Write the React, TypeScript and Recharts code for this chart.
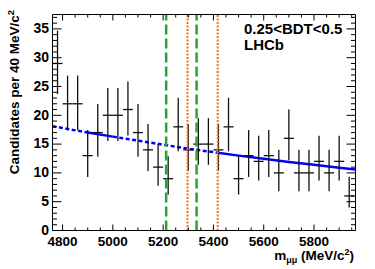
import React from 'react';
import { ComposedChart, Scatter, Line, XAxis, YAxis, ErrorBar, ReferenceLine } from 'recharts';

// ---- data ----
const binCenters = [
  4780, 4820, 4860, 4900, 4940, 4980, 5020, 5060, 5100, 5140,
  5180, 5220, 5260, 5300, 5340, 5380, 5420, 5460, 5500, 5540,
  5580, 5620, 5660, 5700, 5740, 5780, 5820, 5860, 5900, 5940,
];
const counts = [
  29, 22, 22, 13, 17, 20, 20, 21, 17, 14,
  11, 9, 18, 14, 15, 15, 14, 18, 9, 13,
  12, 13, 10, 16, 10, 10, 12, 10, 12, 6,
];
const errDown = [
  5.3, 4.6, 4.6, 3.7, 4.2, 4.45, 4.45, 4.5, 4.2, 3.65,
  3.25, 2.75, 4.25, 3.65, 3.6, 3.6, 3.65, 4.25, 2.75, 3.7,
  3.3, 3.7, 3.2, 3.8, 3.2, 3.2, 3.3, 3.2, 3.3, 2.0,
];
const errUp = [
  5.7, 4.9, 4.9, 4.45, 4.95, 4.75, 4.75, 4.85, 4.95, 4.5,
  4.0, 3.9, 5.05, 4.5, 4.5, 4.5, 4.5, 5.05, 3.9, 4.45,
  4.45, 4.45, 4.0, 5.0, 4.0, 4.0, 4.45, 4.0, 4.45, 3.35,
];
const binHalfWidth = 20;

const fitMass = [4760, 4800, 4900, 5000, 5100, 5200, 5300, 5418, 5500, 5600, 5700, 5800, 5900, 5965];
const fitValue = [18.1, 17.8, 17.0, 16.3, 15.6, 14.9, 14.2, 13.5, 13.0, 12.45, 11.9, 11.4, 10.9, 10.6];

const leftSideband = [4900, 5000];
const rightSideband = [5418, 5965];
const greenWindow = [5212, 5333];
const orangeWindow = [5297, 5417];

const xDomain = [4760, 5965];
const yDomain = [0, 37.5];
const xTicks = [
  4800, 4850, 4900, 4950, 5000, 5050, 5100, 5150, 5200, 5250, 5300, 5350,
  5400, 5450, 5500, 5550, 5600, 5650, 5700, 5750, 5800, 5850, 5900, 5950,
];
const xTickLabels = [4800, 5000, 5200, 5400, 5600, 5800];
const yTicks = [
  0, 1, 2, 3, 4, 5, 6, 7, 8, 9, 10, 11, 12, 13, 14, 15, 16, 17, 18, 19,
  20, 21, 22, 23, 24, 25, 26, 27, 28, 29, 30, 31, 32, 33, 34, 35, 36, 37,
];
const yTickLabels = [0, 5, 10, 15, 20, 25, 30, 35];

const categoryText = '0.25<BDT<0.5';
const experimentText = 'LHCb';

// ---- derived tables ----
const points = counts.map((n, i) => ({
  m: binCenters[i],
  n,
  ey: [errDown[i], errUp[i]],
  ex: binHalfWidth,
}));
const fitPoints = fitMass.map((m, i) => ({ m, v: fitValue[i] }));
const seg = (lo: number, hi: number) => fitPoints.filter((p) => p.m >= lo && p.m <= hi);
const fitDashLeft = seg(xDomain[0], leftSideband[0]);
const fitSolidLeft = seg(leftSideband[0], leftSideband[1]);
const fitDashMid = seg(leftSideband[1], rightSideband[0]);
const fitSolidRight = seg(rightSideband[0], rightSideband[1]);

const FONT = '"Liberation Sans", Arial, Helvetica, sans-serif';

const EmptyShape = () => <g />;

const TickBottom = (props: any) => {
  const { x, payload } = props;
  const y = 230.5;
  const v = payload.value;
  const major = xTickLabels.includes(v);
  return (
    <g>
      <line x1={x} x2={x} y1={y} y2={y - (major ? 6 : 3)} stroke="#000" strokeWidth={1} />
      {major && (
        <text x={x} y={y + 15} textAnchor="middle" fontFamily={FONT} fontWeight="bold" fontSize={13.5} fill="#000">
          {v}
        </text>
      )}
    </g>
  );
};

const TickTop = (props: any) => {
  const { x, payload } = props;
  const y = 14.5;
  const major = xTickLabels.includes(payload.value);
  return <line x1={x} x2={x} y1={y} y2={y + (major ? 6 : 3)} stroke="#000" strokeWidth={1} />;
};

const TickLeft = (props: any) => {
  const { y, payload } = props;
  const x = 52.5;
  const v = payload.value;
  const major = yTickLabels.includes(v);
  return (
    <g>
      <line x1={x} x2={x + (major ? 9 : 4.5)} y1={y} y2={y} stroke="#000" strokeWidth={1} />
      {major && (
        <text x={x - 3.5} y={y + 4.2} textAnchor="end" fontFamily={FONT} fontWeight="bold" fontSize={14} fill="#000">
          {v}
        </text>
      )}
    </g>
  );
};

const TickRight = (props: any) => {
  const { y, payload } = props;
  const x = 355.5;
  const major = yTickLabels.includes(payload.value);
  return <line x1={x} x2={x - (major ? 9 : 4.5)} y1={y} y2={y} stroke="#000" strokeWidth={1} />;
};

export default function App() {
  return (
    <div style={{ position: 'absolute', left: 0, top: 0, width: 375, height: 269, background: '#fff' }}>
      <ComposedChart
        width={375}
        height={269}
        margin={{ top: 13.5, right: 18.5, bottom: 37.5, left: 51.5 }}
      >
        <XAxis
          xAxisId="bottom"
          dataKey="m"
          type="number"
          orientation="bottom"
          domain={xDomain}
          allowDataOverflow
          ticks={xTicks}
          interval={0}
          height={1}
          tickSize={0}
          tickMargin={0}
          tickLine={false}
          tick={TickBottom}
          axisLine={{ stroke: '#000', strokeWidth: 1 }}
        />
        <XAxis
          xAxisId="top"
          dataKey="m"
          type="number"
          orientation="top"
          domain={xDomain}
          allowDataOverflow
          ticks={xTicks}
          interval={0}
          height={1}
          tickSize={0}
          tickMargin={0}
          tickLine={false}
          tick={TickTop}
          axisLine={{ stroke: '#000', strokeWidth: 1 }}
        />
        <YAxis
          yAxisId="left"
          type="number"
          orientation="left"
          domain={yDomain}
          allowDataOverflow
          ticks={yTicks}
          interval={0}
          width={1}
          tickSize={0}
          tickMargin={0}
          tickLine={false}
          tick={TickLeft}
          axisLine={{ stroke: '#000', strokeWidth: 1 }}
        />
        <YAxis
          yAxisId="right"
          type="number"
          orientation="right"
          domain={yDomain}
          allowDataOverflow
          ticks={yTicks}
          interval={0}
          width={1}
          tickSize={0}
          tickMargin={0}
          tickLine={false}
          tick={TickRight}
          axisLine={{ stroke: '#000', strokeWidth: 1 }}
        />

        <Line
          xAxisId="top"
          yAxisId="right"
          data={fitSolidRight}
          dataKey="v"
          stroke="none"
          dot={false}
          isAnimationActive={false}
        />

        <Line xAxisId="bottom" yAxisId="left" data={fitDashLeft} dataKey="v" type="linear" stroke="#0000ff" strokeWidth={2.5} strokeDasharray="4 2.5" dot={false} isAnimationActive={false} />
        <Line xAxisId="bottom" yAxisId="left" data={fitSolidLeft} dataKey="v" type="linear" stroke="#0000ff" strokeWidth={2.5} dot={false} isAnimationActive={false} />
        <Line xAxisId="bottom" yAxisId="left" data={fitDashMid} dataKey="v" type="linear" stroke="#0000ff" strokeWidth={2.5} strokeDasharray="4 2.5" dot={false} isAnimationActive={false} />
        <Line xAxisId="bottom" yAxisId="left" data={fitSolidRight} dataKey="v" type="linear" stroke="#0000ff" strokeWidth={2.5} dot={false} isAnimationActive={false} />

        <Scatter
          xAxisId="bottom"
          yAxisId="left"
          data={points}
          dataKey="n"
          shape={EmptyShape}
          isAnimationActive={false}
        >
          <ErrorBar dataKey="ey" direction="y" width={0} stroke="#111" strokeWidth={1.3} isAnimationActive={false} />
          <ErrorBar dataKey="ex" direction="x" width={0} stroke="#111" strokeWidth={1.3} isAnimationActive={false} />
        </Scatter>

        <ReferenceLine xAxisId="bottom" yAxisId="left" x={greenWindow[0]} stroke="#2aa52a" strokeWidth={2.5} strokeDasharray="10 4" />
        <ReferenceLine xAxisId="bottom" yAxisId="left" x={greenWindow[1]} stroke="#2aa52a" strokeWidth={2.5} strokeDasharray="10 4" />
        <ReferenceLine xAxisId="bottom" yAxisId="left" x={orangeWindow[0]} stroke="#ff6a10" strokeWidth={2} strokeDasharray="2 1.5" />
        <ReferenceLine xAxisId="bottom" yAxisId="left" x={orangeWindow[1]} stroke="#ff6a10" strokeWidth={2} strokeDasharray="2 1.5" />
      </ComposedChart>

      <svg
        width={375}
        height={269}
        style={{ position: 'absolute', left: 0, top: 0, pointerEvents: 'none' }}
      >
        <text x={244} y={34.3} fontFamily={FONT} fontWeight="bold" fontSize={15} fill="#000">
          {categoryText}
        </text>
        <text x={244} y={50} fontFamily={FONT} fontWeight="bold" fontSize={15} fill="#000">
          {experimentText}
        </text>
        <text
          transform="translate(18.5,10) rotate(-90)"
          x={0}
          y={0}
          textAnchor="end"
          fontFamily={FONT}
          fontWeight="bold"
          fontSize={13.5}
          fill="#000"
        >
          Candidates per 40 MeV/c
          <tspan fontSize={9.5} dy={-5}>2</tspan>
        </text>
        <text x={354} y={260} textAnchor="end" fontFamily={FONT} fontWeight="bold" fontSize={13.5} fill="#000">
          m
          <tspan fontSize={9} dy={3}>μμ</tspan>
          <tspan fontSize={13.5} dy={-3}> (MeV/c</tspan>
          <tspan fontSize={9} dy={-5.5}>2</tspan>
          <tspan fontSize={13.5} dy={5.5}>)</tspan>
        </text>
      </svg>
    </div>
  );
}
